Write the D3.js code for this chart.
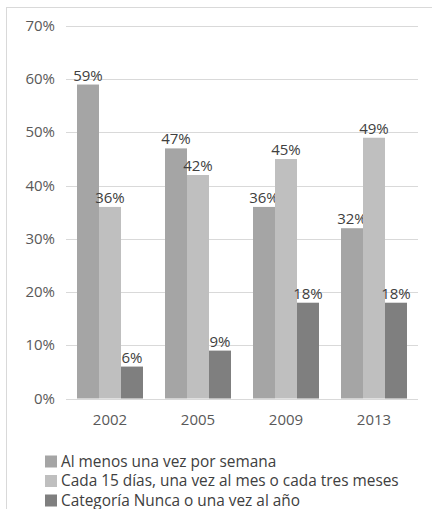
<!DOCTYPE html>
<html><head><meta charset="utf-8">
<script src="https://cdn.jsdelivr.net/npm/d3@7"></script>
<style>body{margin:0;background:#fff}svg{display:block}text{font-family:"Segoe UI","Open Sans",sans-serif}</style>
</head><body>
<script>
const categories = ["2002","2005","2009","2013"];
const seriesNames = ["Al menos una vez por semana","Cada 15 días, una vez al mes o cada tres meses","Categoría Nunca o una vez al año"];
const semanal = [59,47,36,32];
const mensual = [36,42,45,49];
const nunca = [6,9,18,18];
const yTicks = [0,10,20,30,40,50,60,70];
const colors = ["#a5a5a5","#bfbfbf","#7f7f7f"];
const series = [semanal, mensual, nunca];

(function(){
const W=432,H=509;
const svg=d3.select("body").append("svg").attr("width",W).attr("height",H);
svg.append("rect").attr("x",6.5).attr("y",7.5).attr("width",W).attr("height",H).attr("fill","#fff").attr("stroke","#d9d9d9");
const pL=66,pR=418,pT=26,pB=398.5;
const x=d3.scaleBand().domain(categories).range([pL,pR]).paddingInner(0.25).paddingOuter(0.125);
const xs=d3.scaleBand().domain([0,1,2]).range([0,x.bandwidth()]);
const y=d3.scaleLinear().domain([0,70]).range([pB,pT]);
const fs=15;

svg.append("g").selectAll("line").data(yTicks).join("line")
 .attr("x1",pL).attr("x2",pR).attr("y1",d=>Math.round(y(d))+0.5).attr("y2",d=>Math.round(y(d))+0.5)
 .attr("stroke","#d9d9d9").attr("stroke-width",1);
svg.append("g").selectAll("text").data(yTicks).join("text")
 .attr("x",55).attr("y",d=>y(d)+5).attr("text-anchor","end").attr("font-size",fs).attr("fill","#595959")
 .text(d=>d+"%");

series.forEach((s,i)=>{
 const g=svg.append("g");
 g.selectAll("rect").data(s).join("rect")
  .attr("x",(d,j)=>x(categories[j])+xs(i)).attr("width",xs.bandwidth())
  .attr("y",d=>y(d)).attr("height",d=>y(0)-y(d)).attr("fill",colors[i]);
 g.selectAll("text").data(s).join("text")
  .attr("x",(d,j)=>x(categories[j])+xs(i)+xs.bandwidth()/2).attr("y",d=>y(d)-4)
  .attr("text-anchor","middle").attr("font-size",fs).attr("fill","#404040").text(d=>d+"%");
});
svg.append("g").selectAll("text").data(categories).join("text")
 .attr("x",d=>x(d)+x.bandwidth()/2).attr("y",425).attr("text-anchor","middle")
 .attr("font-size",fs).attr("fill","#595959").text(d=>d);

const lg=svg.append("g");
seriesNames.forEach((n,i)=>{
 const yy=461.5+i*19.5;
 lg.append("rect").attr("x",45).attr("y",yy-6).attr("width",12).attr("height",12).attr("fill",colors[i]);
 lg.append("text").attr("x",61).attr("y",yy+5).attr("font-size",15.4).attr("fill","#404040").text(n);
});
})();
</script>
</body></html>
